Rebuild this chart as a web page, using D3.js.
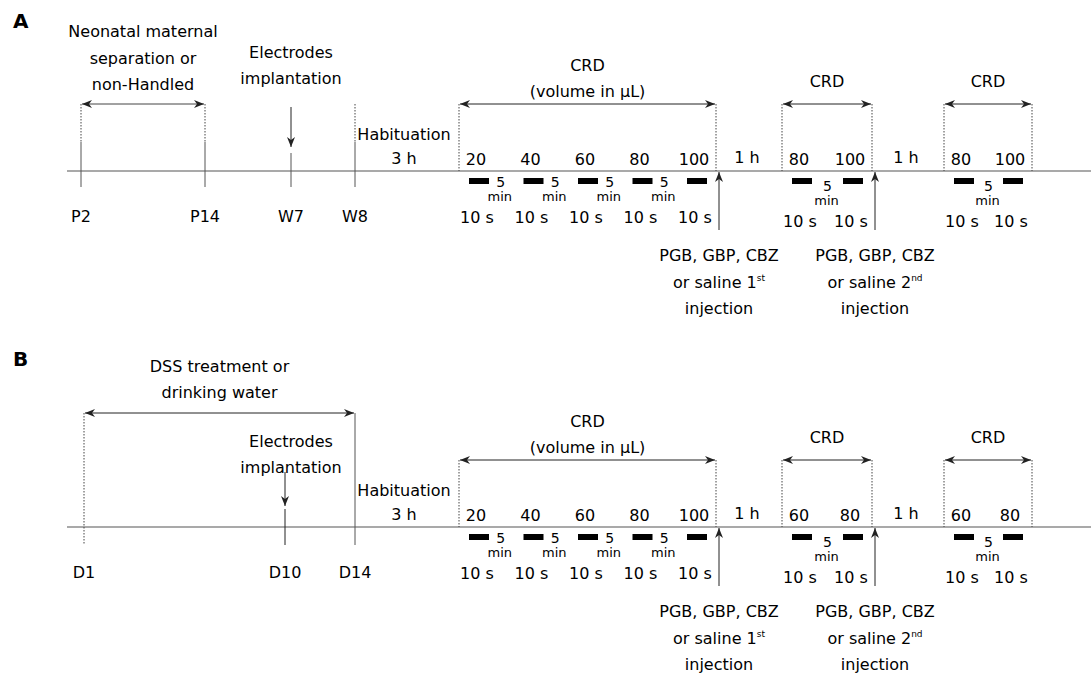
<!DOCTYPE html>
<html>
<head>
<meta charset="utf-8">
<script src="https://cdn.jsdelivr.net/npm/d3@7"></script>
<style>
  body { margin: 0; background: #fff; }
  text { font-family: "DejaVu Sans", Verdana, sans-serif; fill: #000; }
</style>
</head>
<body>
<div id="chart"></div>
<script>
// ---- data ----
const panelNames = ['A', 'B'];
const earlyA = ['P2', 'P14', 'W7', 'W8'];
const earlyB = ['D1', 'D10', 'D14'];
const periodA = ['Neonatal maternal', 'separation or', 'non-Handled'];
const periodB = ['DSS treatment or', 'drinking water'];
const surgeryText = ['Electrodes', 'implantation'];
const habituationText = ['Habituation', '3 h'];
const crdVolumesA = [[20, 40, 60, 80, 100], [80, 100], [80, 100]];
const crdVolumesB = [[20, 40, 60, 80, 100], [60, 80], [60, 80]];
const crdTitles = [['CRD', '(volume in \u03bcL)'], ['CRD'], ['CRD']];
const distensionLabel = '10 s';
const intervalLabel = ['5', 'min'];
const gapLabel = '1 h';
const injectionNumber = ['1', '2'];
const injectionSuffix = ['st', 'nd'];
const injectionText = ['PGB, GBP, CBZ', 'or saline ', 'injection'];

// ---- layout ----
const W = 1091, H = 673;
const axisStart = 67;
const sessionExtent = [[459, 716], [782, 872], [944, 1032]];

const svg = d3.select('#chart').append('svg')
    .attr('width', W)
    .attr('height', H);

svg.append('defs').append('marker')
    .attr('id', 'head')
    .attr('viewBox', '0 0 10 8')
    .attr('refX', 10).attr('refY', 4)
    .attr('markerWidth', 10).attr('markerHeight', 8)
    .attr('markerUnits', 'userSpaceOnUse')
    .attr('orient', 'auto-start-reverse')
    .append('path')
    .attr('d', 'M0,0L10,4L0,8L3,4Z')
    .attr('fill', '#222');

function line(g, x1, y1, x2, y2, opts) {
    opts = opts || {};
    let l = g.append('line')
        .attr('x1', x1).attr('y1', y1).attr('x2', x2).attr('y2', y2)
        .attr('stroke', opts.color || '#444')
        .attr('stroke-width', opts.w || 1);
    if (opts.dotted) l.attr('stroke-dasharray', '1.5,1.5');
    if (opts.start) l.attr('marker-start', 'url(#head)');
    if (opts.end) l.attr('marker-end', 'url(#head)');
    return l;
}

function textLines(g, lines, x, y, step, size) {
    g.append('text')
        .attr('x', x).attr('y', y)
        .attr('font-size', size || 16)
        .attr('text-anchor', 'middle')
        .selectAll('tspan').data(lines).join('tspan')
        .attr('x', x)
        .attr('dy', (d, i) => i ? step : 0)
        .text(d => d);
}

function drawRight(g, volumes) {
    // habituation, between last early tick and first CRD session
    textLines(g, habituationText, 404, -31, 24, 16);

    volumes.forEach((vols, s) => {
        let [x0, x1] = sessionExtent[s];
        let x = d3.scalePoint().domain(d3.range(vols.length)).range([x0 + 20, x1 - 19]);
        let step = x.step();
        let low = vols.length > 2 ? 0 : 4;

        line(g, x0, -67, x0, 0, {dotted: true});
        line(g, x1, -67, x1, 0, {dotted: true});
        line(g, x0 + 1, -67, x1 - 1, -67, {color: '#222', start: true, end: true});

        let title = crdTitles[s];
        if (title.length > 1) textLines(g, title, (x0 + x1) / 2, -100, 26, 16);
        else textLines(g, title, (x0 + x1) / 2, -84, 26, 16);

        vols.forEach((v, i) => {
            let bx = x(i);
            g.append('text').attr('x', bx - 3).attr('y', -6)
                .attr('font-size', 16).attr('text-anchor', 'middle').text(v);
            g.append('rect')
                .attr('x', bx - 10).attr('y', 7)
                .attr('width', 20).attr('height', 6)
                .attr('fill', '#000');
            g.append('text').attr('x', bx - 2).attr('y', 52 + low)
                .attr('font-size', 16).attr('text-anchor', 'middle').text(distensionLabel);
            if (i < vols.length - 1) {
                let mx = bx + step * (vols.length > 2 ? 0.4 : 0.5);
                g.append('text').attr('x', mx).attr('y', 16 + low)
                    .attr('font-size', 14).attr('text-anchor', 'middle').text(intervalLabel[0]);
                g.append('text').attr('x', mx - 1).attr('y', 30 + low)
                    .attr('font-size', 13).attr('text-anchor', 'middle').text(intervalLabel[1]);
            }
        });

        if (s < volumes.length - 1) {
            let next = sessionExtent[s + 1][0];
            g.append('text').attr('x', (x1 + next) / 2 - 2).attr('y', -8)
                .attr('font-size', 16).attr('text-anchor', 'middle').text(gapLabel);

            // injection arrow just after the session
            let ix = x1 + 3;
            line(g, ix, 59, ix, 1, {color: '#222', end: true});
            let t = g.append('g');
            textLines(t, [injectionText[0]], ix, 90, 0, 16);
            let mid = t.append('text').attr('x', ix).attr('y', 117)
                .attr('font-size', 16).attr('text-anchor', 'middle');
            mid.append('tspan').text(injectionText[1] + injectionNumber[s]);
            mid.append('tspan').attr('font-size', 9).attr('dy', -7).text(injectionSuffix[s]);
            textLines(t, [injectionText[2]], ix, 143, 0, 16);
        }
    });
}

// ---- panel A ----
let gA = svg.append('g').attr('transform', 'translate(0,171)');
let xA = d3.scaleOrdinal().domain(earlyA).range([81, 205, 291, 355]);
svg.append('text').attr('x', 13).attr('y', 28)
    .attr('font-size', 20).attr('font-weight', 'bold').text(panelNames[0]);
line(gA, axisStart, 0, W, 0, {color: '#555', w: 1.2});
[earlyA[0], earlyA[1], earlyA[3]].forEach(k => {
    line(gA, xA(k), -67, xA(k), -29, {dotted: true});
    line(gA, xA(k), -29, xA(k), 16, {color: '#555'});
});
line(gA, xA(earlyA[2]), -64, xA(earlyA[2]), -24, {color: '#222', end: true});
line(gA, xA(earlyA[2]), -18, xA(earlyA[2]), 16, {color: '#555'});
line(gA, xA(earlyA[0]) + 1, -67, xA(earlyA[1]) - 1, -67, {color: '#444', start: true, end: true});
textLines(gA, periodA, (xA(earlyA[0]) + xA(earlyA[1])) / 2, -134, 26.5, 16);
textLines(gA, surgeryText, xA(earlyA[2]), -113, 26, 16);
earlyA.forEach(k => {
    gA.append('text').attr('x', xA(k)).attr('y', 51)
        .attr('font-size', 16).attr('text-anchor', 'middle').text(k);
});
drawRight(gA, crdVolumesA);

// ---- panel B ----
let gB = svg.append('g').attr('transform', 'translate(0,527)');
let xB = d3.scaleOrdinal().domain(earlyB).range([84, 285, 355]);
svg.append('text').attr('x', 13).attr('y', 366)
    .attr('font-size', 20).attr('font-weight', 'bold').text(panelNames[1]);
line(gB, axisStart, 0, W, 0, {color: '#555', w: 1.2});
line(gB, xB(earlyB[0]), -114, xB(earlyB[0]), 18, {dotted: true});
line(gB, xB(earlyB[2]), -114, xB(earlyB[2]), 18, {color: '#555'});
line(gB, xB(earlyB[1]), -55, xB(earlyB[1]), -21, {color: '#222', end: true});
line(gB, xB(earlyB[1]), -18, xB(earlyB[1]), 18, {color: '#222'});
line(gB, xB(earlyB[0]) + 1, -114, xB(earlyB[2]) - 1, -114, {color: '#222', start: true, end: true});
textLines(gB, periodB, (xB(earlyB[0]) + xB(earlyB[2])) / 2, -155, 25.5, 16);
textLines(gB, surgeryText, xB(earlyB[1]) + 6, -80, 26, 16);
earlyB.forEach(k => {
    gB.append('text').attr('x', xB(k)).attr('y', 51)
        .attr('font-size', 16).attr('text-anchor', 'middle').text(k);
});
drawRight(gB, crdVolumesB);
</script>
</body>
</html>
